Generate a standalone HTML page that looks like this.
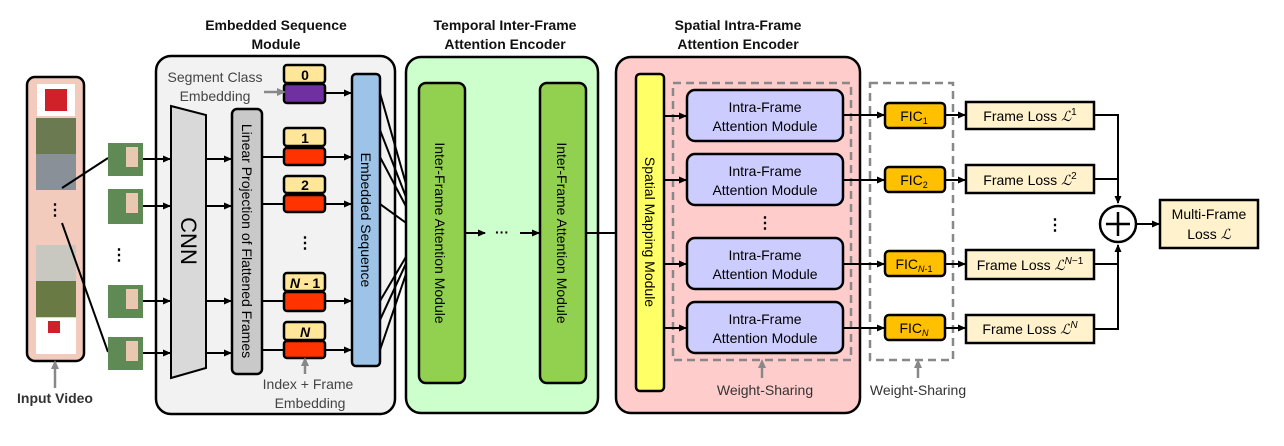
<!DOCTYPE html>
<html><head><meta charset="utf-8"><style>
html,body{margin:0;padding:0;background:#fff;}
svg text{font-family:"Liberation Sans",sans-serif;}
</style></head><body>
<svg width="1284" height="441" viewBox="0 0 1284 441" xmlns="http://www.w3.org/2000/svg">
<defs>
<marker id="a" markerWidth="8" markerHeight="8" refX="7" refY="4" orient="auto" markerUnits="userSpaceOnUse"><path d="M0,0.5 L8,4 L0,7.5 z" fill="#000"/></marker>
<marker id="g" markerWidth="10" markerHeight="10" refX="5" refY="5" orient="auto" markerUnits="userSpaceOnUse"><path d="M0,1 L9,5 L0,9 z" fill="#888"/></marker>
</defs>
<!-- Titles -->
<g font-weight="bold" font-size="14" text-anchor="middle" fill="#111">
<text x="276" y="30">Embedded Sequence</text><text x="276" y="49">Module</text>
<text x="505" y="30">Temporal Inter-Frame</text><text x="505" y="49">Attention Encoder</text>
<text x="738" y="30">Spatial Intra-Frame</text><text x="738" y="49">Attention Encoder</text>
</g>
<!-- Input video -->
<rect x="27" y="77" width="57" height="284" rx="8" fill="#f2cbbd" stroke="#000" stroke-width="2.5"/>
<rect x="37" y="84" width="38" height="32" fill="#fff"/><rect x="45" y="89" width="22" height="22" fill="#d0202a"/>
<rect x="36" y="118" width="40" height="36" fill="#6b7a50"/><rect x="36" y="154" width="40" height="36" fill="#8a9098"/>
<rect x="36" y="245" width="40" height="36" fill="#c8c8c0"/><rect x="36" y="281" width="40" height="36" fill="#6a7a45"/>
<rect x="36" y="318" width="40" height="36" fill="#fff"/><rect x="48" y="321" width="12" height="12" fill="#d0202a"/>
<text x="55" y="215" font-size="16" font-weight="bold" text-anchor="middle">⋮</text>
<line x1="62" y1="188" x2="108" y2="158" stroke="#000" stroke-width="2"/>
<line x1="62" y1="223" x2="108" y2="352" stroke="#000" stroke-width="2"/>
<line x1="55" y1="388" x2="55" y2="364" stroke="#888" stroke-width="2.5" marker-end="url(#g)"/>
<text x="55" y="403" font-size="14" font-weight="bold" text-anchor="middle" fill="#333">Input Video</text>
<!-- thumbnails -->
<g fill="#5f8a55"><rect x="108" y="143" width="35" height="33"/><rect x="108" y="189" width="35" height="35"/><rect x="108" y="285" width="35" height="33"/><rect x="108" y="337" width="35" height="33"/></g>
<g fill="#e8c8b0"><rect x="126" y="147" width="12" height="20"/><rect x="126" y="193" width="12" height="20"/><rect x="126" y="289" width="12" height="20"/><rect x="126" y="341" width="12" height="20"/></g>
<text x="119" y="260" font-size="16" font-weight="bold" text-anchor="middle">⋮</text>
<!-- Embedded module -->
<rect x="156" y="56" width="239" height="358" rx="15" fill="#f2f2f2" stroke="#000" stroke-width="2.5"/>
<polygon points="171,106 206,115 206,368 171,378" fill="#d9d9d9" stroke="#000" stroke-width="2"/>
<text transform="translate(181,241) rotate(90)" font-size="22" text-anchor="middle">CNN</text>
<rect x="232" y="109" width="30" height="265" rx="5" fill="#c9c9c9" stroke="#000" stroke-width="2.5"/>
<text transform="translate(242,241) rotate(90)" font-size="14" text-anchor="middle">Linear Projection of Flattened Frames</text>
<g stroke="#000" stroke-width="2" marker-end="url(#a)">
<line x1="143" y1="159" x2="170" y2="159"/><line x1="143" y1="206" x2="170" y2="206"/><line x1="143" y1="301" x2="170" y2="301"/><line x1="143" y1="353" x2="170" y2="353"/>
<line x1="206" y1="159" x2="231" y2="159"/><line x1="206" y1="206" x2="231" y2="206"/><line x1="206" y1="301" x2="231" y2="301"/><line x1="206" y1="353" x2="231" y2="353"/>
<line x1="325" y1="93" x2="351" y2="93"/><line x1="325" y1="157" x2="351" y2="157"/><line x1="325" y1="204" x2="351" y2="204"/><line x1="325" y1="301" x2="351" y2="301"/><line x1="325" y1="350" x2="351" y2="350"/>
</g>
<g stroke="#000" stroke-width="2"><line x1="262" y1="157" x2="284" y2="157"/><line x1="262" y1="204" x2="284" y2="204"/><line x1="262" y1="301" x2="284" y2="301"/><line x1="262" y1="350" x2="284" y2="350"/></g>
<g stroke="#000" stroke-width="2.5">
<rect x="284" y="65" width="41" height="18" rx="3" fill="#ffe699"/><rect x="284" y="84" width="41" height="19" rx="3" fill="#7030a0"/>
<rect x="284" y="128" width="41" height="18" rx="3" fill="#ffe699"/><rect x="284" y="148" width="41" height="17" rx="3" fill="#ff3300"/>
<rect x="284" y="176" width="41" height="17" rx="3" fill="#ffe699"/><rect x="284" y="195" width="41" height="17" rx="3" fill="#ff3300"/>
<rect x="284" y="273" width="41" height="18" rx="3" fill="#ffe699"/><rect x="284" y="292" width="41" height="19" rx="3" fill="#ff3300"/>
<rect x="284" y="322" width="41" height="18" rx="3" fill="#ffe699"/><rect x="284" y="341" width="41" height="17" rx="3" fill="#ff3300"/>
</g>
<g font-size="14" font-weight="bold" text-anchor="middle">
<text x="305" y="80">0</text><text x="305" y="143">1</text><text x="305" y="190">2</text>
<text x="305" y="288"><tspan font-style="italic">N</tspan> - 1</text><text x="305" y="337" font-style="italic">N</text>
</g>
<text x="305" y="248" font-size="16" font-weight="bold" text-anchor="middle">⋮</text>
<g font-size="14" fill="#444" text-anchor="middle"><text x="215" y="82">Segment Class</text><text x="215" y="101">Embedding</text>
<text x="308" y="389">Index + Frame</text><text x="310" y="408">Embedding</text></g>
<line x1="264" y1="92" x2="282" y2="92" stroke="#888" stroke-width="2.5" marker-end="url(#g)"/>
<line x1="305" y1="374" x2="305" y2="361" stroke="#888" stroke-width="2.5" marker-end="url(#g)"/>
<rect x="352" y="74" width="28" height="292" rx="4" fill="#9dc3e6" stroke="#000" stroke-width="2.5"/>
<text transform="translate(361,220) rotate(90)" font-size="14" text-anchor="middle">Embedded Sequence</text>
<g stroke="#000" stroke-width="2"><line x1="380" y1="93" x2="420" y2="233"/><line x1="380" y1="157" x2="420" y2="233"/><line x1="380" y1="204" x2="420" y2="233"/><line x1="380" y1="301" x2="420" y2="233"/><line x1="380" y1="350" x2="420" y2="233"/>
<line x1="380" y1="130" x2="420" y2="233"/><line x1="380" y1="320" x2="420" y2="233"/></g>
<!-- Temporal -->
<rect x="406" y="57" width="192" height="356" rx="15" fill="#ccffcc" stroke="#000" stroke-width="2.5"/>
<rect x="419" y="83" width="46" height="300" rx="7" fill="#92d050" stroke="#000" stroke-width="2.5"/>
<rect x="540" y="83" width="46" height="300" rx="7" fill="#92d050" stroke="#000" stroke-width="2.5"/>
<text transform="translate(435,233) rotate(90)" font-size="14" text-anchor="middle">Inter-Frame Attention Module</text>
<text transform="translate(557,233) rotate(90)" font-size="14" text-anchor="middle">Inter-Frame Attention Module</text>
<g stroke="#000" stroke-width="2" marker-end="url(#a)"><line x1="465" y1="233" x2="485" y2="233"/><line x1="520" y1="233" x2="539" y2="233"/><line x1="586" y1="233" x2="635" y2="233"/></g>
<text x="502" y="237" font-size="14" font-weight="bold" text-anchor="middle">···</text>
<!-- Spatial -->
<rect x="616" y="57" width="244" height="356" rx="15" fill="#ffcccc" stroke="#000" stroke-width="2.5"/>
<rect x="636" y="74" width="28" height="317" rx="4" fill="#ffff66" stroke="#000" stroke-width="2.5"/>
<text transform="translate(645,232) rotate(90)" font-size="14" text-anchor="middle">Spatial Mapping Module</text>
<rect x="673" y="83" width="178" height="277" fill="none" stroke="#888" stroke-width="2.5" stroke-dasharray="8,5"/>
<rect x="870" y="83" width="83" height="277" fill="none" stroke="#888" stroke-width="2.5" stroke-dasharray="8,5"/>
<g fill="#ccccff" stroke="#000" stroke-width="2.5">
<rect x="687" y="90" width="156" height="51" rx="8"/><rect x="687" y="154" width="156" height="51" rx="8"/><rect x="687" y="238" width="156" height="51" rx="8"/><rect x="687" y="302" width="156" height="51" rx="8"/></g>
<g font-size="14" text-anchor="middle">
<text x="765" y="112">Intra-Frame</text><text x="765" y="131">Attention Module</text>
<text x="765" y="176">Intra-Frame</text><text x="765" y="195">Attention Module</text>
<text x="765" y="260">Intra-Frame</text><text x="765" y="279">Attention Module</text>
<text x="765" y="324">Intra-Frame</text><text x="765" y="343">Attention Module</text></g>
<text x="765" y="228" font-size="16" font-weight="bold" text-anchor="middle">⋮</text>
<g stroke="#000" stroke-width="2" marker-end="url(#a)">
<line x1="664" y1="116" x2="686" y2="116"/><line x1="664" y1="180" x2="686" y2="180"/><line x1="664" y1="264" x2="686" y2="264"/><line x1="664" y1="328" x2="686" y2="328"/>
<line x1="843" y1="115" x2="884" y2="115"/><line x1="843" y1="180" x2="884" y2="180"/><line x1="843" y1="264" x2="884" y2="264"/><line x1="843" y1="328" x2="884" y2="328"/>
<line x1="945" y1="115" x2="965" y2="115"/><line x1="945" y1="180" x2="965" y2="180"/><line x1="945" y1="264" x2="965" y2="264"/><line x1="945" y1="328" x2="965" y2="328"/>
</g>
<g fill="#ffc000" stroke="#000" stroke-width="2.5">
<rect x="885" y="103" width="60" height="25" rx="4"/><rect x="885" y="167" width="60" height="25" rx="4"/><rect x="885" y="251" width="60" height="25" rx="4"/><rect x="885" y="315" width="60" height="25" rx="4"/></g>
<g font-size="14" text-anchor="middle">
<text x="914" y="121">FIC<tspan font-size="9" dy="3">1</tspan></text>
<text x="914" y="185">FIC<tspan font-size="9" dy="3">2</tspan></text>
<text x="914" y="269">FIC<tspan font-size="9" dy="3" font-style="italic">N</tspan><tspan font-size="9">-1</tspan></text>
<text x="914" y="333">FIC<tspan font-size="9" dy="3" font-style="italic">N</tspan></text></g>
<g font-size="14" fill="#333" text-anchor="middle"><text x="765" y="395">Weight-Sharing</text><text x="918" y="395">Weight-Sharing</text></g>
<line x1="762" y1="378" x2="762" y2="363" stroke="#888" stroke-width="2.5" marker-end="url(#g)"/>
<line x1="918" y1="378" x2="918" y2="363" stroke="#888" stroke-width="2.5" marker-end="url(#g)"/>
<!-- Losses -->
<g fill="#fff2cc" stroke="#000" stroke-width="2.5">
<rect x="966" y="102" width="128" height="27"/><rect x="966" y="165" width="128" height="28"/><rect x="966" y="250" width="128" height="29"/><rect x="966" y="315" width="128" height="28"/>
<rect x="1160" y="200" width="98" height="48"/></g>
<g font-size="14" text-anchor="middle">
<text x="1030" y="121">Frame Loss <tspan font-style="italic" font-family="Liberation Serif">ℒ</tspan><tspan font-size="10" dy="-6">1</tspan></text>
<text x="1030" y="185">Frame Loss <tspan font-style="italic" font-family="Liberation Serif">ℒ</tspan><tspan font-size="10" dy="-6">2</tspan></text>
<text x="1030" y="270">Frame Loss <tspan font-style="italic" font-family="Liberation Serif">ℒ</tspan><tspan font-size="10" dy="-6" font-style="italic">N</tspan><tspan font-size="10">−1</tspan></text>
<text x="1030" y="334">Frame Loss <tspan font-style="italic" font-family="Liberation Serif">ℒ</tspan><tspan font-size="10" dy="-6" font-style="italic">N</tspan></text>
<text x="1209" y="219">Multi-Frame</text><text x="1209" y="239">Loss <tspan font-style="italic" font-family="Liberation Serif">ℒ</tspan></text></g>
<text x="1055" y="230" font-size="16" font-weight="bold" text-anchor="middle">⋮</text>
<g stroke="#000" stroke-width="2" fill="none">
<polyline points="1094,115 1118,115 1118,203" marker-end="url(#a)"/>
<line x1="1094" y1="179" x2="1118" y2="179"/>
<polyline points="1094,329 1118,329 1118,245" marker-end="url(#a)"/>
<line x1="1094" y1="264" x2="1118" y2="264"/>
<line x1="1137" y1="224" x2="1159" y2="224" marker-end="url(#a)"/>
<circle cx="1118" cy="224" r="18" fill="#fff" stroke-width="2.5"/>
<line x1="1106" y1="224" x2="1130" y2="224" stroke-width="2.5"/><line x1="1118" y1="212" x2="1118" y2="236" stroke-width="2.5"/>
</g>
</svg>
</body></html>
